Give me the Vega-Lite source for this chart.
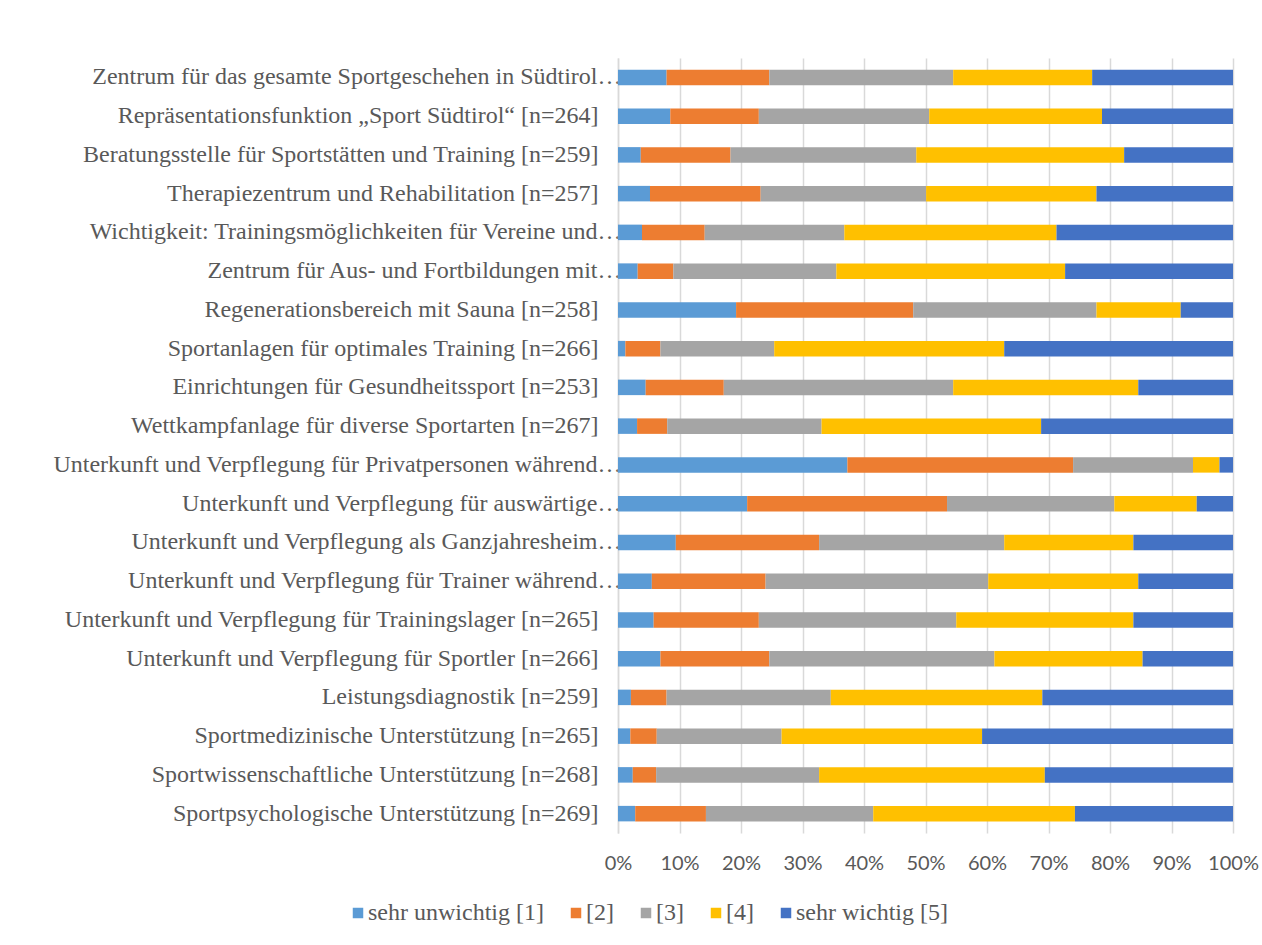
{
  "$schema": "https://vega.github.io/schema/vega-lite/v6.json",
  "autosize": "none",
  "width": 615,
  "height": 775,
  "padding": {"left": 618, "top": 58, "right": 29, "bottom": 112},
  "background": "white",
  "config": {
    "view": {"stroke": null},
    "axis": {"labelColor": "#595959", "domainColor": "#d9d9d9", "gridColor": "#d9d9d9"},
    "legend": {"labelFont": "Liberation Serif"}
  },
  "datasets": {
    "wide": [
      {"cat": "Zentrum für das gesamte Sportgeschehen in Südtirol…", "v1": 7.9, "v2": 16.7, "v3": 29.9, "v4": 22.6, "v5": 22.9},
      {"cat": "Repräsentationsfunktion „Sport Südtirol“ [n=264]", "v1": 8.5, "v2": 14.4, "v3": 27.7, "v4": 28.1, "v5": 21.3},
      {"cat": "Beratungsstelle für Sportstätten und Training [n=259]", "v1": 3.7, "v2": 14.6, "v3": 30.2, "v4": 33.8, "v5": 17.7},
      {"cat": "Therapiezentrum und Rehabilitation [n=257]", "v1": 5.2, "v2": 18.0, "v3": 26.9, "v4": 27.7, "v5": 22.2},
      {"cat": "Wichtigkeit: Trainingsmöglichkeiten für Vereine und…", "v1": 3.9, "v2": 10.2, "v3": 22.7, "v4": 34.5, "v5": 28.7},
      {"cat": "Zentrum für Aus- und Fortbildungen mit…", "v1": 3.2, "v2": 5.8, "v3": 26.5, "v4": 37.2, "v5": 27.3},
      {"cat": "Regenerationsbereich mit Sauna [n=258]", "v1": 19.2, "v2": 28.8, "v3": 29.8, "v4": 13.7, "v5": 8.5},
      {"cat": "Sportanlagen für optimales Training [n=266]", "v1": 1.2, "v2": 5.7, "v3": 18.5, "v4": 37.4, "v5": 37.2},
      {"cat": "Einrichtungen für Gesundheitssport [n=253]", "v1": 4.5, "v2": 12.7, "v3": 37.3, "v4": 30.1, "v5": 15.4},
      {"cat": "Wettkampfanlage für diverse Sportarten [n=267]", "v1": 3.1, "v2": 4.9, "v3": 25.1, "v4": 35.7, "v5": 31.2},
      {"cat": "Unterkunft und Verpflegung für Privatpersonen während…", "v1": 37.3, "v2": 36.7, "v3": 19.5, "v4": 4.3, "v5": 2.2},
      {"cat": "Unterkunft und Verpflegung für auswärtige…", "v1": 21.0, "v2": 32.5, "v3": 27.2, "v4": 13.4, "v5": 5.9},
      {"cat": "Unterkunft und Verpflegung als Ganzjahresheim…", "v1": 9.4, "v2": 23.3, "v3": 30.1, "v4": 21.0, "v5": 16.2},
      {"cat": "Unterkunft und Verpflegung für Trainer während…", "v1": 5.5, "v2": 18.5, "v3": 36.2, "v4": 24.4, "v5": 15.4},
      {"cat": "Unterkunft und Verpflegung für Trainingslager [n=265]", "v1": 5.8, "v2": 17.1, "v3": 32.1, "v4": 28.8, "v5": 16.2},
      {"cat": "Unterkunft und Verpflegung für Sportler [n=266]", "v1": 6.9, "v2": 17.7, "v3": 36.6, "v4": 24.1, "v5": 14.7},
      {"cat": "Leistungsdiagnostik [n=259]", "v1": 2.1, "v2": 5.8, "v3": 26.7, "v4": 34.4, "v5": 31.0},
      {"cat": "Sportmedizinische Unterstützung [n=265]", "v1": 2.0, "v2": 4.3, "v3": 20.3, "v4": 32.6, "v5": 40.8},
      {"cat": "Sportwissenschaftliche Unterstützung [n=268]", "v1": 2.4, "v2": 3.8, "v3": 26.5, "v4": 36.7, "v5": 30.6},
      {"cat": "Sportpsychologische Unterstützung [n=269]", "v1": 2.8, "v2": 11.5, "v3": 27.2, "v4": 32.8, "v5": 25.7}
    ]
  },
  "data": {"name": "wide"},
  "transform": [
    {"fold": ["v1", "v2", "v3", "v4", "v5"], "as": ["k", "value"]},
    {"lookup": "k", "from": {"data": {"values": [
      {"k": "v1", "level": "sehr unwichtig [1]"},
      {"k": "v2", "level": "[2]"},
      {"k": "v3", "level": "[3]"},
      {"k": "v4", "level": "[4]"},
      {"k": "v5", "level": "sehr wichtig [5]"}
    ]}, "key": "k", "fields": ["level"]}}
  ],
  "mark": {"type": "bar"},
  "encoding": {
    "y": {
      "field": "cat", "type": "nominal", "sort": null,
      "scale": {"paddingInner": 0.6, "paddingOuter": 0.3},
      "axis": {
        "title": null, "ticks": false,
        "labelPadding": {"condition": {"test": "datum.value == 'Zentrum für das gesamte Sportgeschehen in Südtirol…' || datum.value == 'Wichtigkeit: Trainingsmöglichkeiten für Vereine und…' || datum.value == 'Zentrum für Aus- und Fortbildungen mit…' || datum.value == 'Unterkunft und Verpflegung für Privatpersonen während…' || datum.value == 'Unterkunft und Verpflegung für auswärtige…' || datum.value == 'Unterkunft und Verpflegung als Ganzjahresheim…' || datum.value == 'Unterkunft und Verpflegung für Trainer während…'", "value": -3}, "value": 20},
        "labelLimit": 700,
        "labelFont": "Liberation Serif", "labelFontSize": 24, "domain": true, "domainWidth": 1.5
      }
    },
    "x": {
      "field": "value", "type": "quantitative", "stack": "normalize",
      "scale": {"domain": [0, 1], "nice": false},
      "axis": {
        "title": null, "format": ".0%", "values": [0, 0.1, 0.2, 0.3, 0.4, 0.5, 0.6, 0.7, 0.8, 0.9, 1],
        "ticks": false, "domain": false, "grid": true, "gridWidth": 1.5,
        "labelPadding": 20, "labelFont": "Lato", "labelFontSize": 20, "labelFlush": false
      }
    },
    "color": {
      "field": "level", "type": "nominal",
      "sort": ["sehr unwichtig [1]", "[2]", "[3]", "[4]", "sehr wichtig [5]"],
      "scale": {
        "domain": ["sehr unwichtig [1]", "[2]", "[3]", "[4]", "sehr wichtig [5]"],
        "range": ["#5B9BD5", "#ED7D31", "#A5A5A5", "#FFC000", "#4472C4"]
      },
      "legend": {
        "title": null, "orient": "none", "direction": "horizontal",
        "legendX": -272, "legendY": 843,
        "symbolType": "square", "symbolSize": 110, "symbolStrokeWidth": 0,
        "labelFont": "Liberation Serif", "labelFontSize": 24, "labelColor": "#595959",
        "labelOffset": -2, "columnPadding": 20, "labelLimit": 300
      }
    },
    "order": {"field": "k", "type": "ordinal"}
  }
}
